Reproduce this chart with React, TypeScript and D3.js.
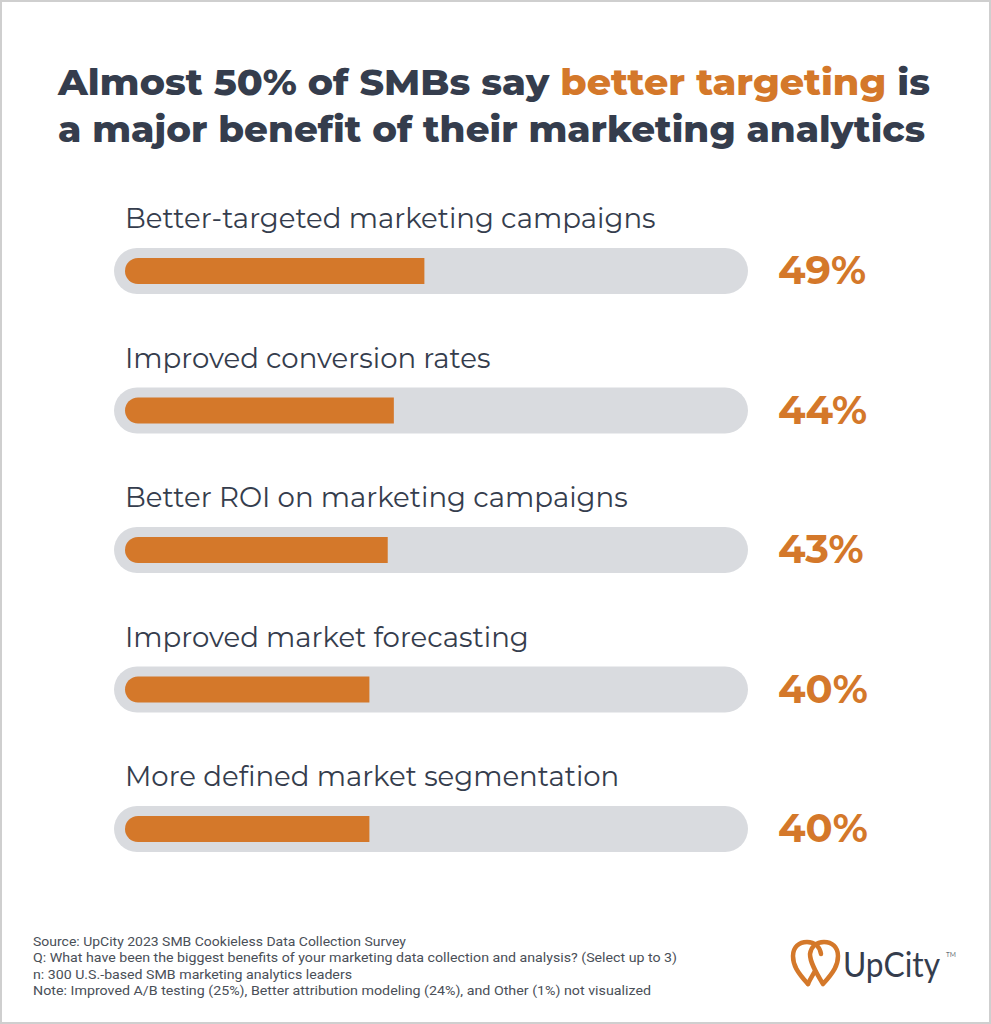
import React from "react";
import * as d3 from "d3";

const categories = [
  "Better-targeted marketing campaigns",
  "Improved conversion rates",
  "Better ROI on marketing campaigns",
  "Improved market forecasting",
  "More defined market segmentation",
];
const values = [49, 44, 43, 40, 40];
const titleLine1 = ["Almost 50% of SMBs say ", "better targeting", " is"];
const titleLine2 = "a major benefit of their marketing analytics";
const footerLines = [
  "Source: UpCity 2023 SMB Cookieless Data Collection Survey",
  "Q: What have been the biggest benefits of your marketing data collection and analysis? (Select up to 3)",
  "n: 300 U.S.-based SMB marketing analytics leaders",
  "Note: Improved A/B testing (25%), Better attribution modeling (24%), and Other (1%) not visualized",
];
const footerWidths = [373, 644, 319, 618];

const W = 991;
const H = 1024;
const ORANGE = "#D4782A";
const TRACK = "#D9DBDF";
const DARK = "#353D4D";
const FONT = "Montserrat, 'Open Sans', Lato, sans-serif";

export default function App() {
  const x = d3.scaleLinear().domain([0, 100]).range([125, 736]);
  const y = d3
    .scalePoint<number>()
    .domain(d3.range(categories.length))
    .range([271, 829]);
  const trackH = 46;
  const barH = 26;

  const barPath = (v: number, cy: number) => {
    const x0 = x(0);
    const x1 = x(v);
    const r = barH / 2;
    const p = d3.path();
    p.moveTo(x0 + r, cy - r);
    p.lineTo(x1, cy - r);
    p.lineTo(x1, cy + r);
    p.lineTo(x0 + r, cy + r);
    p.arc(x0 + r, cy, r, Math.PI / 2, (3 * Math.PI) / 2);
    p.closePath();
    return p.toString();
  };

  return (
    <svg
      width={W}
      height={H}
      style={{ position: "absolute", left: 0, top: 0, background: "#fff" }}
    >
      <rect x={1} y={1} width={W - 2} height={H - 2} fill="#fff" stroke="#CFCFCF" strokeWidth={2} />
      <text
        x={58}
        y={95}
        fontFamily={FONT}
        fontWeight={800}
        fontSize={36}
        fill={DARK}
        textLength={872}
        lengthAdjust="spacingAndGlyphs"
      >
        <tspan>{titleLine1[0]}</tspan>
        <tspan fill={ORANGE}>{titleLine1[1]}</tspan>
        <tspan>{titleLine1[2]}</tspan>
      </text>
      <text
        x={58}
        y={142}
        fontFamily={FONT}
        fontWeight={800}
        fontSize={36}
        fill={DARK}
        textLength={867}
        lengthAdjust="spacingAndGlyphs"
      >
        {titleLine2}
      </text>

      {categories.map((c, i) => {
        const cy = y(i) as number;
        return (
          <g key={c}>
            <text
              x={125}
              y={cy - 43}
              fontFamily={FONT}
              fontSize={27.6}
              fill={DARK}
            >
              {c}
            </text>
            <rect
              x={114}
              y={cy - trackH / 2}
              width={748 - 114}
              height={trackH}
              rx={trackH / 2}
              fill={TRACK}
            />
            <path d={barPath(values[i], cy)} fill={ORANGE} />
            <text
              x={778}
              y={cy + 13}
              fontFamily={FONT}
              fontWeight={700}
              fontSize={40}
              fill={ORANGE}
            >
              {values[i]}%
            </text>
          </g>
        );
      })}

      {footerLines.map((l, i) => (
        <text
          key={i}
          x={33}
          y={946 + i * 16.3}
          fontFamily="Roboto, 'Noto Sans', sans-serif"
          fontSize={13.5}
          fill="#4A4F58"
          textLength={footerWidths[i]}
          lengthAdjust="spacingAndGlyphs"
        >
          {l}
        </text>
      ))}

      <g fill="none" stroke={ORANGE} strokeWidth={4.5} strokeLinecap="round">
        <path d="M808,984 C797,972 793,965 793,956 C793,947 799,942 807,942 C815,942 820,947 821,954" />
        <path d="M823,984 C834,972 838,965 838,956 C838,947 832,942 824,942 C816,942 811,947 810,954 C810,962 815,971 823,984" />
        <path d="M808,984 C810,979 813,975 815,971" />
      </g>
      <text
        x={843}
        y={977}
        fontFamily="Lato, 'Open Sans', sans-serif"
        fontSize={34}
        fill={DARK}
        textLength={97}
        lengthAdjust="spacingAndGlyphs"
      >
        UpCity
      </text>
      <text x={946} y={957} fontFamily={FONT} fontSize={6.5} fill={DARK}>
        TM
      </text>
    </svg>
  );
}
